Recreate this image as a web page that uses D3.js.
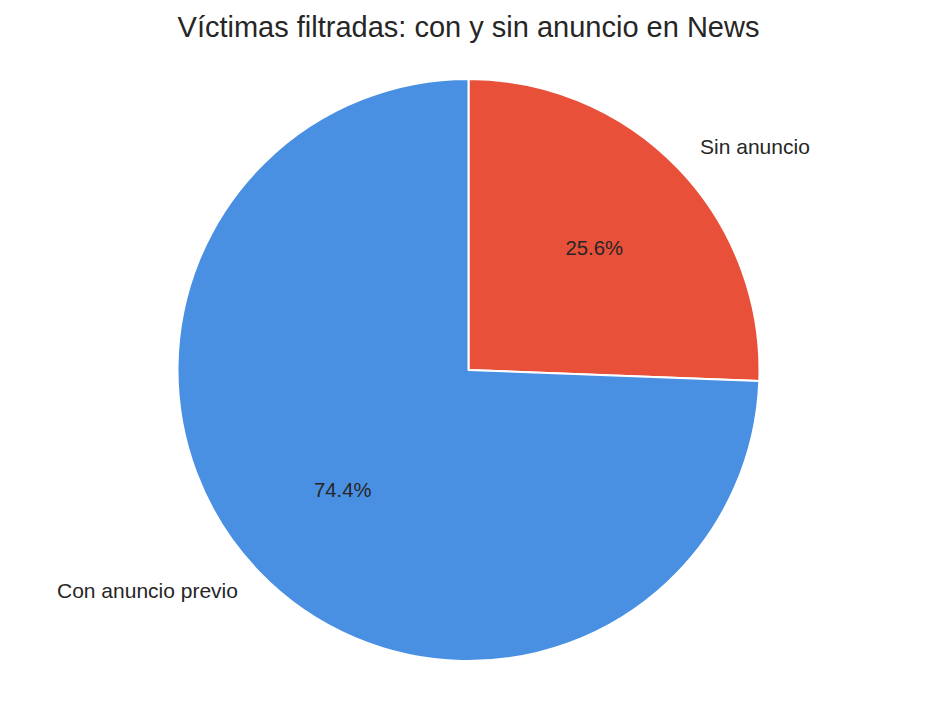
<!DOCTYPE html>
<html><head><meta charset="utf-8">
<script src="https://cdn.jsdelivr.net/npm/d3@7"></script>
<style>html,body{margin:0;padding:0;background:#fff;} svg{display:block;}</style>
</head><body>
<svg id="chart" width="937" height="706"></svg>
<script>
const categories = ["Sin anuncio", "Con anuncio previo"];
const values = [25.6, 74.4];
const colors = ["#E8503A", "#4A90E2"];
const title = "Víctimas filtradas: con y sin anuncio en News";

const svg = d3.select("#chart");
const W = 937, H = 706;
const cx = 468.5, cy = 370, R = 291;
const font = "'Liberation Sans', Arial, sans-serif";

svg.append("text").attr("x", cx).attr("y", 37).attr("text-anchor", "middle")
  .attr("font-family", font).attr("font-size", 29).attr("fill", "#262626").text(title);

const data = categories.map((c, i) => ({cat: c, value: values[i], color: colors[i]}));
const pie = d3.pie().value(d => d.value).sort(null);
const arcs = pie(data);
const arc = d3.arc().innerRadius(0).outerRadius(R);
const g = svg.append("g").attr("transform", `translate(${cx},${cy})`);

g.selectAll("path").data(arcs).join("path")
  .attr("d", arc).attr("fill", d => d.data.color)
  .attr("stroke", "#fff").attr("stroke-width", 2).attr("stroke-linejoin", "round");

const totalV = d3.sum(values);
arcs.forEach(a => {
  const mid = (a.startAngle + a.endAngle) / 2;
  const sx = Math.sin(mid), sy = -Math.cos(mid);
  g.append("text").attr("x", 1.1 * R * sx + (sx >= 0 ? 1 : 0)).attr("y", 1.1 * R * sy - 1.5)
    .attr("text-anchor", sx >= 0 ? "start" : "end").attr("dominant-baseline", "central")
    .attr("font-family", font).attr("font-size", 21).attr("fill", "#262626").text(a.data.cat);
  g.append("text").attr("x", 0.6 * R * sx).attr("y", 0.6 * R * sy - 1)
    .attr("text-anchor", "middle").attr("dominant-baseline", "central")
    .attr("font-family", font).attr("font-size", 20.3).attr("fill", "#262626")
    .text((a.data.value / totalV * 100).toFixed(1) + "%");
});
</script>
</body></html>
